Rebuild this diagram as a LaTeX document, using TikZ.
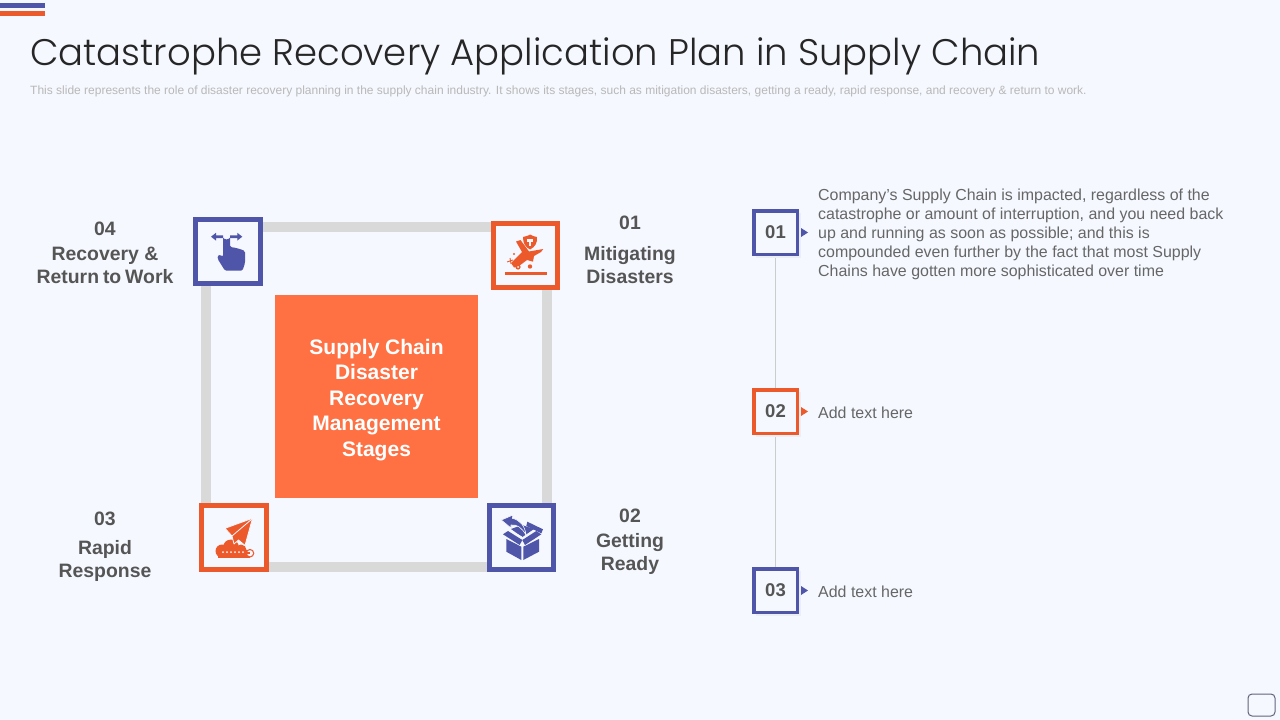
\documentclass[tikz,border=0pt]{standalone}
\usepackage{fontspec}
\setmainfont{Liberation Sans}
\newfontfamily\titlefont{Poppins Light}
\definecolor{bg}{HTML}{F5F8FE}
\definecolor{ublue}{HTML}{4F55A8}
\definecolor{uorange}{HTML}{EC5A2C}
\definecolor{centerfill}{HTML}{FF7043}
\definecolor{framegrey}{HTML}{D9D9D9}
\definecolor{labelgrey}{HTML}{555555}
\definecolor{bodygrey}{HTML}{666666}
\definecolor{subgrey}{HTML}{B8B8B8}
\definecolor{shadowgrey}{HTML}{EBEEF5}
\tikzset{
  x=1pt,y=-1pt,
  iconbox/.style={draw=#1,line width=5pt,fill=bg,minimum width=64.5pt,minimum height=64pt,inner sep=0pt},
  numbox/.style={draw=#1,line width=3.5pt,fill=bg,minimum size=43.5pt,inner sep=0pt,text=labelgrey,font=\bfseries\fontsize{18.5}{22}\selectfont},
  stagelabel/.style={text=labelgrey,align=center,inner sep=0pt,font=\bfseries\fontsize{19.4}{23}\selectfont},
  bodytext/.style={text=bodygrey,align=left,anchor=west,inner sep=0pt,font=\fontsize{15.95}{19}\selectfont},
  tri/.style={fill=#1,draw=none},
}
\begin{document}
\begin{tikzpicture}
\useasboundingbox (0,0) rectangle (1280,720);
\fill[bg] (0,0) rectangle (1280,720);
% top bars
\fill[ublue] (0,3) rectangle (45,8);
\fill[uorange] (0,11) rectangle (45,16);
% corner box
\draw[draw=ublue!40!black!70,line width=1pt,rounded corners=4pt] (1248,694) rectangle (1275,716);
% title
\node[anchor=west,inner sep=0pt,text=black!85] (title) at (30,56) {\titlefont\fontsize{37}{44}\selectfont Catastrophe Recovery Application Plan in Supply Chain};
\node[anchor=west,inner sep=0pt,text=subgrey] (sub) at (30,91) {\fontsize{12}{14}\selectfont This slide represents the role of disaster recovery planning in the supply chain industry. It shows its stages, such as mitigation disasters, getting a ready, rapid response, and recovery \& return to work.};
% frame
\coordinate (tl) at (206,227);
\coordinate (tr) at (547,227);
\coordinate (br) at (547,567);
\coordinate (bl) at (206,567);
\draw[framegrey,line width=10pt] (tl) -- (tr) -- (br) -- (bl) -- cycle;
% centre
\node[fill=centerfill,minimum size=203pt,inner sep=0pt] (center) at (376.5,396.5) {};
\node[inner sep=0pt,text=white,align=center,font=\bfseries\fontsize{21}{25.6}\selectfont] (centertext) at (376.5,400) {Supply Chain\\Disaster\\Recovery\\Management\\Stages};
% icon boxes
\node[iconbox=ublue] (b4) at (228,251.5) {};
\node[iconbox=uorange] (b1) at (525.5,255.5) {};
\node[iconbox=uorange] (b3) at (234,537.5) {};
\node[iconbox=ublue] (b2) at (521.5,537.5) {};
% hand icon
\fill[ublue] (211,236.7) -- (216,232.8) -- (216,235.4) -- (223,235.4) -- (223,238) -- (216,238) -- (216,240.6) -- cycle;
\fill[ublue] (242.3,236.7) -- (237.3,232.8) -- (237.3,235.4) -- (230,235.4) -- (230,238) -- (237.3,238) -- (237.3,240.6) -- cycle;
\fill[ublue,rounded corners=1.5pt] (223,236) arc (180:0:3.5) -- (230,247) -- (234,247.5) -- (240,249) -- (245,251) -- (245,263) -- (242.5,270.7) -- (225,270.7) -- (217.7,259) -- (217.7,255.5) -- (220,254.5) -- (223,257) -- cycle;
% plane icon
\fill[uorange] (505,271.7) rectangle (546.7,275);
\fill[uorange] (523,237) .. controls (527,236) and (530,235) .. (530,234.5) .. controls (532,236) and (535,236.5) .. (537,237) .. controls (537.5,243) and (535,247) .. (530,249.5) .. controls (525,247) and (523,243) .. (523,237) -- cycle;
\fill[bg] (527,239) rectangle (533,241.5);
\fill[bg] (529,241) rectangle (531,246);
\fill[uorange] (516,241.5) -- (520.5,240) -- (529,251.5) -- (543.3,249) -- (541,252) -- (534,256) -- (533,261.7) -- (527,260) -- (519,266) -- (514,267.5) -- (511,263) -- (522,252) -- cycle;
\draw[uorange,line width=.9pt] (507,262) -- (513,260) (510,258) -- (511,264);
\fill[uorange] (514,254) circle (1.2);
\fill[uorange] (518,267) circle (2.6);
\fill[uorange] (530,266.5) circle (2.2);
\fill[bg] (518,267) circle (1);
% paper plane + cloud
\fill[uorange] (222,551) circle (6.5);
\fill[uorange] (231,547.5) circle (8);
\fill[uorange] (241,550) circle (5.5);
\fill[uorange] (218,550) rectangle (250,557.5);
\fill[uorange] (250,553.2) circle (4.3);
\fill[bg] (250,553.2) circle (3);
\fill[uorange] (240,551.5) rectangle (250,554);
\fill[uorange,draw=bg,line width=.8pt,line join=round] (252.5,518.3) -- (225,528.3) -- (232,536) -- (234,544) -- (238.5,540) -- (245,545.5) -- cycle;
\draw[bg,line width=.8pt] (252,519) -- (232,536);
\foreach \px in {223,227,231,235,239,243}{\fill[bg] (\px,552) circle (1);}
% box icon
\fill[ublue] (506.3,539) -- (521.3,546.7) -- (521.3,560) -- (506.3,551.7) -- cycle;
\fill[ublue] (523.3,546.7) -- (539,539) -- (539,551.7) -- (523.3,560) -- cycle;
\fill[ublue] (503,534.3) -- (508,531) -- (522.3,540) -- (519.7,545) -- cycle;
\fill[ublue] (541.3,534.3) -- (536.3,531) -- (522.3,540) -- (525,545) -- cycle;
\fill[ublue] (511,529) -- (522,525) -- (534,529) -- (522.3,537) -- cycle;
\fill[ublue] (527.3,521.7) -- (543,529.3) -- (541.3,533.3) -- (526.3,526) -- cycle;
\draw[bg,line width=.8pt] (505,528) -- (522,537);
\fill[ublue,draw=bg,line width=.6pt,line join=round] (501.3,520) -- (513,515) -- (512.3,518.3) .. controls (520,520) and (525,526) .. (526,535) .. controls (522,528) and (517,524) .. (511,525) -- (511,528) -- cycle;
% stage labels
\node[stagelabel] (l4) at (105,253) {04\\[1.5pt]Recovery \&\\{\spaceskip=.2em Return to Work}};
\node[stagelabel] (l1) at (630,250) {01\\[8pt]Mitigating\\Disasters};
\node[stagelabel] (l3) at (105,547) {03\\[6pt]Rapid\\Response};
\node[stagelabel] (l2) at (630,542) {02\\[2pt]Getting\\Ready};
% timeline
\draw[black!20,line width=.8pt] (775.5,232.5) -- (775.5,590.5);
\fill[shadowgrey] (755.5,212.5) rectangle (801,258);
\fill[shadowgrey] (755.5,391.5) rectangle (801,437);
\fill[shadowgrey] (755.5,570.5) rectangle (801,616);
\node[numbox=ublue] (n1) at (775.5,232.5) {01};
\node[numbox=uorange] (n2) at (775.5,411.5) {02};
\node[numbox=ublue] (n3) at (775.5,590.5) {03};
\fill[tri=ublue] (801,228) -- (808,232.5) -- (801,237) -- cycle;
\fill[tri=uorange] (801,407) -- (808,411.5) -- (801,416) -- cycle;
\fill[tri=ublue] (801,586) -- (808,590.5) -- (801,595) -- cycle;
\node[bodytext] (t1) at (818,234.5) {Company’s Supply Chain is impacted, regardless of the\\catastrophe or amount of interruption, and you need back\\up and running as soon as possible; and this is\\compounded even further by the fact that most Supply\\Chains have gotten more sophisticated over time};
\node[bodytext] (t2) at (818,412.5) {Add text here};
\node[bodytext] (t3) at (818,591.5) {Add text here};
\end{tikzpicture}
\end{document}
